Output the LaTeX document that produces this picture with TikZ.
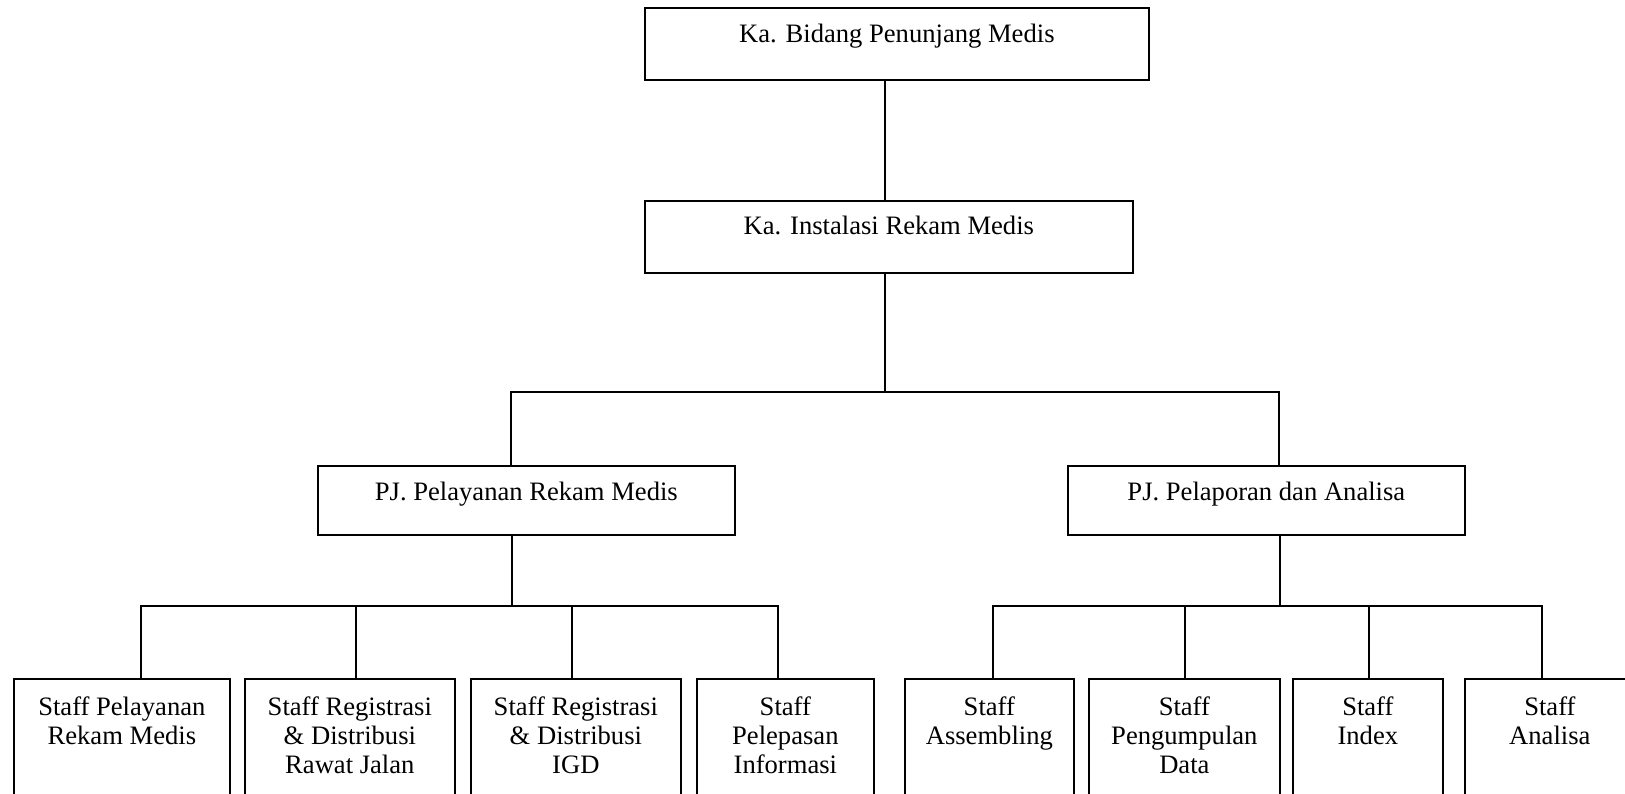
\documentclass[tikz,border=0pt]{standalone}
\usepackage{fontspec}
\setmainfont{Liberation Serif}
\usetikzlibrary{calc}
\newcommand{\mltext}[1]{\begin{tabular}[t]{@{}c@{}}#1\end{tabular}}
\begin{document}
\begin{tikzpicture}[x=1pt,y=-1pt,
  box/.style={draw,line width=1.7pt,rectangle,inner sep=0pt,anchor=north west},
  lbl/.style={anchor=base,inner sep=0pt,font=\fontsize{26.6}{29}\selectfont},
  conn/.style={line width=1.7pt}]
\useasboundingbox (0,0) rectangle (1625,794);
\clip (0,0) rectangle (1625,794);
% boxes
\node[box,minimum width=504pt,minimum height=72pt] (b1) at (644,7) {};
\node[box,minimum width=488pt,minimum height=72pt] (b2) at (644,200) {};
\node[box,minimum width=417pt,minimum height=69pt] (pj1) at (317,465) {};
\node[box,minimum width=397pt,minimum height=69pt] (pj2) at (1067,465) {};
\node[box,minimum width=216pt,minimum height=140pt] (s1) at (13,678) {};
\node[box,minimum width=210pt,minimum height=140pt] (s2) at (244,678) {};
\node[box,minimum width=210pt,minimum height=140pt] (s3) at (470,678) {};
\node[box,minimum width=177pt,minimum height=140pt] (s4) at (696,678) {};
\node[box,minimum width=169pt,minimum height=140pt] (s5) at (904,678) {};
\node[box,minimum width=191pt,minimum height=140pt] (s6) at (1088,678) {};
\node[box,minimum width=150pt,minimum height=140pt] (s7) at (1292,678) {};
\node[box,minimum width=170pt,minimum height=140pt] (s8) at (1464,678) {};
% labels
\node[lbl] (t1) at ($(b1.north)+(0,36)$) {Ka. Bidang Penunjang Medis};
\node[lbl] (t2) at ($(b2.north)+(0,35)$) {Ka. Instalasi Rekam Medis};
\node[lbl] (t3) at ($(pj1.north)+(0,35)$) {PJ. Pelayanan Rekam Medis};
\node[lbl] (t4) at ($(pj2.north)+(0,35)$) {PJ. Pelaporan dan Analisa};
\node[lbl] (u1) at ($(s1.north)+(0,37)$) {\mltext{Staff Pelayanan\\Rekam Medis}};
\node[lbl] (u2) at ($(s2.north)+(0,37)$) {\mltext{Staff Registrasi\\\&\ Distribusi\\Rawat Jalan}};
\node[lbl] (u3) at ($(s3.north)+(0,37)$) {\mltext{Staff Registrasi\\\&\ Distribusi\\IGD}};
\node[lbl] (u4) at ($(s4.north)+(0,37)$) {\mltext{Staff\\Pelepasan\\Informasi}};
\node[lbl] (u5) at ($(s5.north)+(0,37)$) {\mltext{Staff\\Assembling}};
\node[lbl] (u6) at ($(s6.north)+(0,37)$) {\mltext{Staff\\Pengumpulan\\Data}};
\node[lbl] (u7) at ($(s7.north)+(0,37)$) {\mltext{Staff\\Index}};
\node[lbl] (u8) at ($(s8.north)+(0,37)$) {\mltext{Staff\\Analisa}};
% connectors
\coordinate (j0) at (885,392);
\coordinate (busA) at (511,392);
\coordinate (busB) at (1279,392);
\draw[conn] (b1.south -| j0) -- (b2.north -| j0);
\draw[conn] (b2.south -| j0) -- (j0);
\draw[conn] (pj1.north -| busA) -- (busA) -- (busB) -- (pj2.north -| busB);
% left group
\coordinate (p1) at (512,606);
\coordinate (l1) at (141,606);
\coordinate (l2) at (356,606);
\coordinate (l3) at (572,606);
\coordinate (l4) at (778,606);
\draw[conn] (pj1.south -| p1) -- (p1);
\draw[conn] (s1.north -| l1) -- (l1) -- (l4) -- (s4.north -| l4);
\draw[conn] (l2) -- (s2.north -| l2);
\draw[conn] (l3) -- (s3.north -| l3);
% right group
\coordinate (p2) at (1280,606);
\coordinate (r1) at (993,606);
\coordinate (r2) at (1185,606);
\coordinate (r3) at (1369,606);
\coordinate (r4) at (1542,606);
\draw[conn] (pj2.south -| p2) -- (p2);
\draw[conn] (s5.north -| r1) -- (r1) -- (r4) -- (s8.north -| r4);
\draw[conn] (r2) -- (s6.north -| r2);
\draw[conn] (r3) -- (s7.north -| r3);
\end{tikzpicture}
\end{document}
